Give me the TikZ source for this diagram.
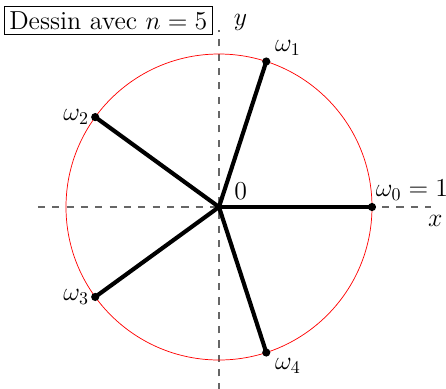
\documentclass[tikz,border=0pt]{standalone}
\usetikzlibrary{positioning,calc}

\begin{document}
\begin{tikzpicture}[
    axis/.style={dashed, draw=gray!80!black, semithick, dash pattern=on 4pt off 4pt},
    spoke/.style={line width=2.3pt},
    lbl/.style={font=\fontsize{14.5}{17}\selectfont},
]
\useasboundingbox (-4.294,-3.549) rectangle (4.451,4.059);

% axes
\coordinate (O) at (0,0);
\coordinate (xl) at (-3.55,0);
\coordinate (xr) at (4.15,0);
\coordinate (yb) at (0,-3.6);
\coordinate (yt) at (0,3.47);
\draw[axis] (xl) -- (xr);
\draw[axis] (yb) -- (yt);
\node[lbl] (xlab) at (4.24,-0.27) {$x$};
\node[lbl] (ylab) at (0.42,3.62) {$y$};

% unit circle
\draw[red, thin] (O) circle (3);

% roots of unity
\foreach \k in {0,...,4}{
  \coordinate (w\k) at ({72*\k}:3);
  \draw[spoke] (O) -- (w\k);
  \fill (w\k) circle (0.08);
}
\node[lbl, anchor=south west, inner sep=1pt] (lo) at (0.26,0.1) {$0$};
\node[lbl, anchor=south west] (l0) at ($(w0)+(-0.05,0.0)$) {$\omega_0=1$};
\node[lbl, anchor=south west] (l1) at ($(w1)+(0.05,0.0)$) {$\omega_1$};
\node[lbl, anchor=east] (l2) at (w2) {$\omega_2$};
\node[lbl, anchor=east] (l3) at (w3) {$\omega_3$};
\node[lbl, anchor=north west] (l4) at ($(w4)+(0.05,0.0)$) {$\omega_4$};

% title box
\node[lbl, draw, inner sep=3pt, fill=white] (title) at (-2.17,3.66) {Dessin avec $n=5$};

\end{tikzpicture}
\end{document}
